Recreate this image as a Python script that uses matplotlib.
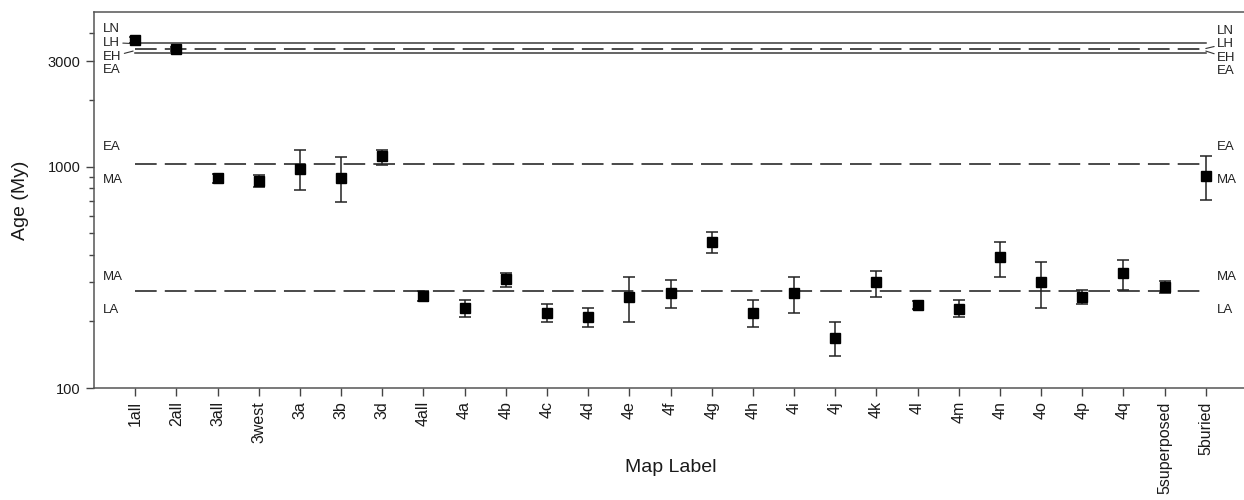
import numpy as np
import matplotlib
matplotlib.use("Agg")
import matplotlib.pyplot as plt

plt.rcParams['font.family'] = ['Liberation Sans', 'DejaVu Sans']

# Map labels and model ages (My)
map_labels = ['1all', '2all', '3all', '3west', '3a', '3b', '3d', '4all', '4a', '4b',
              '4c', '4d', '4e', '4f', '4g', '4h', '4i', '4j', '4k', '4l', '4m',
              '4n', '4o', '4p', '4q', '5superposed', '5buried']
age = [3730, 3410, 889, 858, 979, 889, 1113, 261, 229, 310,
       219, 209, 259, 268, 459, 219, 270, 169, 300, 237, 228,
       389, 300, 259, 330, 287, 911]
age_hi = [3850, 3490, 930, 913, 1185, 1102, 1194, 273, 250, 330,
          239, 229, 318, 308, 508, 250, 318, 198, 339, 248, 250,
          459, 370, 277, 380, 306, 1113]
age_lo = [3620, 3330, 844, 809, 781, 692, 1014, 248, 209, 287,
          198, 189, 199, 229, 409, 189, 219, 139, 259, 228, 209,
          318, 229, 239, 277, 268, 709]

# Epoch boundaries (My)
bound_solid = [3614, 3270]
bound_dashed = [3420, 1032, 273]

x = np.arange(len(map_labels))
age = np.array(age)
yerr = np.vstack([age - np.array(age_lo), np.array(age_hi) - age])

fig = plt.figure(figsize=(12.44, 5.0), dpi=100)
ax = fig.add_axes([94 / 1244, 112 / 500, 1153 / 1244, 376 / 500])

line_col = '#3a3a3a'
for b in bound_solid:
    ax.plot([x[0], x[-1]], [b, b], color=line_col, lw=1.1)
for b in bound_dashed:
    ax.plot([x[0], x[-1]], [b, b], color=line_col, lw=1.3, linestyle=(0, (12, 4.5)))

ax.errorbar(x, age, yerr=yerr, fmt='s', color='black', ms=7.5,
            ecolor='#222222', elinewidth=1.1, capsize=4.5, capthick=1.1, zorder=3)

ax.set_yscale('log')
ax.set_ylim(100, 5000)
ax.set_xlim(-1, 27)

ax.set_yticks([100, 1000, 3000])
ax.set_yticklabels(['100', '1000', '3000'])
ax.set_yticks([200, 300, 400, 500, 600, 700, 800, 900, 2000, 4000], minor=True)
ax.yaxis.set_minor_formatter(matplotlib.ticker.NullFormatter())

ax.set_xticks(x)
ax.set_xticklabels(map_labels, rotation=90)

ax.tick_params(axis='both', which='major', direction='out', length=6, width=1,
               color='#444444', labelcolor='#1a1a1a')
ax.tick_params(axis='y', which='major', labelsize=10.5)
ax.tick_params(axis='x', which='major', labelsize=11.5)
ax.tick_params(axis='y', which='minor', direction='out', length=3.5, width=1, color='#444444')
for s in ax.spines.values():
    s.set_color('#555555')
    s.set_linewidth(1.1)

ax.set_xlabel('Map Label', fontsize=14, color='#1a1a1a')
ax.xaxis.set_label_coords(0.5, -0.19)
ax.set_ylabel('Age (My)', fontsize=14, color='#1a1a1a')
ax.yaxis.set_label_coords(-0.056, 0.5)

# epoch labels on both sides
lab_kw = dict(fontsize=9.5, color='#222222', va='center', ha='left')
left_x = -0.78
right_x = 26.27
for name, yv in [('LN', 4211), ('EA', 2748)]:
    ax.text(left_x, yv, name, **lab_kw)
for name, yv in [('LN', 4084), ('EA', 2720)]:
    ax.text(right_x, yv, name, **lab_kw)
lead = dict(arrowstyle='-', color='#333333', lw=0.8, shrinkA=0, shrinkB=0)
ax.annotate('LH', xy=(-0.05, 3600), xytext=(left_x, 3637), arrowprops=lead, **lab_kw)
ax.annotate('EH', xy=(-0.05, 3330), xytext=(left_x, 3146), arrowprops=lead, **lab_kw)
ax.annotate('LH', xy=(26.0, 3420), xytext=(right_x, 3590), arrowprops=lead, **lab_kw)
ax.annotate('EH', xy=(26.0, 3330), xytext=(right_x, 3112), arrowprops=lead, **lab_kw)

for xx in (left_x, right_x):
    ax.text(xx, 1232, 'EA', **lab_kw)
    ax.text(xx, 873, 'MA', **lab_kw)
    ax.text(xx, 318, 'MA', **lab_kw)
    ax.text(xx, 225, 'LA', **lab_kw)

fig.savefig('out.png', dpi=100)
